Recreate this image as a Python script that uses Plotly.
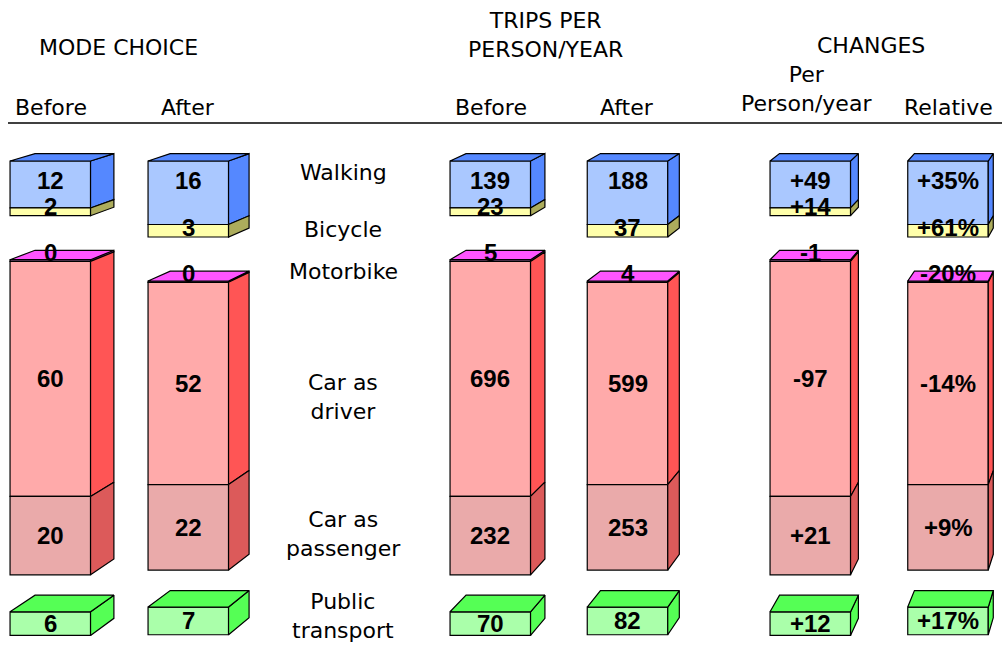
import plotly.graph_objects as go

# ---------------- data ----------------
modes = ["Walking", "Bicycle", "Motorbike", "Car as<br>driver", "Car as<br>passenger", "Public<br>transport"]
mode_share_before = [12, 2, 0, 60, 20, 6]          # %
mode_share_after = [16, 3, 0, 52, 22, 7]           # %
trips_before = [139, 23, 5, 696, 232, 70]          # trips per person/year
trips_after = [188, 37, 4, 599, 253, 82]
change_per_person = [49, 14, -1, -97, 21, 12]      # trips per person/year
change_relative = [35, 61, -20, -14, 9, 17]        # %

# ---------------- style / layout ----------------
front_colors = ["#aac8ff", "#ffffaa", "#ffa8ff", "#ffaaaa", "#eaaaaa", "#aaffaa"]
side_colors = ["#5588ff", "#acac5c", "#ff55ff", "#ff5555", "#dc5a5a", "#55ff55"]
group_start = {0: 0, 2: 1, 5: 2}      # first block of each group (gets a top face)

W, H = 1002, 645
PX_PER_TRIP = 0.3377
TOP_PX = 161
GAP_PX = {2: 44, 5: 37}
VANISH_PX = (1235, -202)
DEPTH = 0.0204
BAR_W = 80.5
LINE = dict(color="black", width=1.2)
NUM_FONT = dict(family="Liberation Sans, Arial, sans-serif", size=24, color="black", weight="bold")
TXT_FONT = dict(family="DejaVu Sans, sans-serif", size=22, color="black")


def py(p):
    """pixel row -> y data value (trips)"""
    return p / PX_PER_TRIP


VX, VY = VANISH_PX[0], py(VANISH_PX[1])


def back(x, y):
    return x + DEPTH * (VX - x), y + DEPTH * (VY - y)


def stack(vals):
    tops, bots = [], []
    y = py(TOP_PX)
    for i, v in enumerate(vals):
        if i in GAP_PX:
            y += py(GAP_PX[i])
        tops.append(y)
        y += v
        bots.append(y)
    return tops, bots


columns = [
    dict(x=50.3, h=trips_before, lab=[str(v) for v in mode_share_before]),
    dict(x=188.3, h=trips_after, lab=[str(v) for v in mode_share_after]),
    dict(x=490.3, h=trips_before, lab=[str(v) for v in trips_before]),
    dict(x=627.5, h=trips_after, lab=[str(v) for v in trips_after]),
    dict(x=810.3, h=trips_before, lab=[f"{v:+d}" for v in change_per_person]),
    dict(x=948.0, h=trips_after, lab=[f"{v:+d}%" for v in change_relative]),
]
for c in columns:
    c["tops"], c["bots"] = stack(c["h"])

fig = go.Figure()

# front faces (bars)
for i, m in enumerate(modes):
    fig.add_trace(go.Bar(
        x=[c["x"] for c in columns],
        y=[c["h"][i] for c in columns],
        base=[c["tops"][i] for c in columns],
        width=BAR_W,
        marker=dict(color=front_colors[i], line=LINE),
        hoverinfo="skip", showlegend=False,
    ))

# side and top faces
for c in columns:
    x0, x1 = c["x"] - BAR_W / 2, c["x"] + BAR_W / 2
    for i in range(len(modes)):
        t, b = c["tops"][i], c["bots"][i]
        bx_b, by_b = back(x1, b)
        bx_t, by_t = back(x1, t)
        fig.add_trace(go.Scatter(
            x=[x1, x1, bx_b, bx_t, x1], y=[t, b, by_b, by_t, t],
            mode="lines", fill="toself", fillcolor=side_colors[i], line=LINE,
            hoverinfo="skip", showlegend=False))
        if i in group_start:
            b0x, b0y = back(x0, t)
            fig.add_trace(go.Scatter(
                x=[x0, x1, bx_t, b0x, x0], y=[t, t, by_t, b0y, t],
                mode="lines", fill="toself", fillcolor=side_colors[i], line=LINE,
                hoverinfo="skip", showlegend=False))

annotations = []
# value labels
for c in columns:
    for i in range(len(modes)):
        t, b = c["tops"][i], c["bots"][i]
        if i == 0:
            y, ys = t, -19
        elif i in (1, 2):
            y, ys = b, 9
        else:
            y, ys = (t + b) / 2, 0
        annotations.append(dict(x=c["x"], y=y, yshift=ys, text=c["lab"][i], showarrow=False,
                                xanchor="center", yanchor="middle", font=NUM_FONT))

# mode names
mode_label_y = [172, 229, 271, 397, 534, 616]
for m, yp in zip(modes, mode_label_y):
    annotations.append(dict(x=343, y=py(yp), text=m, showarrow=False, xanchor="center",
                            yanchor="middle", font=TXT_FONT))

# headers
headers = [
    ("MODE CHOICE", 118.5, 47),
    ("TRIPS PER<br>PERSON/YEAR", 545, 35),
    ("CHANGES", 871, 45),
    ("Before", 51, 107), ("After", 188, 107),
    ("Before", 491, 107), ("After", 627, 107),
    ("Per<br>Person/year", 806, 89), ("Relative", 948, 107),
]
for txt, xp, yp in headers:
    annotations.append(dict(x=xp, y=py(yp), text=txt, showarrow=False, xanchor="center",
                            yanchor="middle", font=TXT_FONT))

fig.update_layout(
    width=W, height=H, margin=dict(l=0, r=0, t=0, b=0),
    paper_bgcolor="white", plot_bgcolor="white",
    barmode="overlay", showlegend=False,
    xaxis=dict(range=[0, W], visible=False, fixedrange=True),
    yaxis=dict(range=[py(H), 0], visible=False, fixedrange=True),
    annotations=annotations,
    shapes=[dict(type="line", x0=8, x1=1002, y0=py(123), y1=py(123),
                 line=dict(color="black", width=1.3))],
)

fig.write_html("out.html", config={"displayModeBar": False},
               post_script="document.body.style.margin='0';document.body.style.overflow='hidden';")
